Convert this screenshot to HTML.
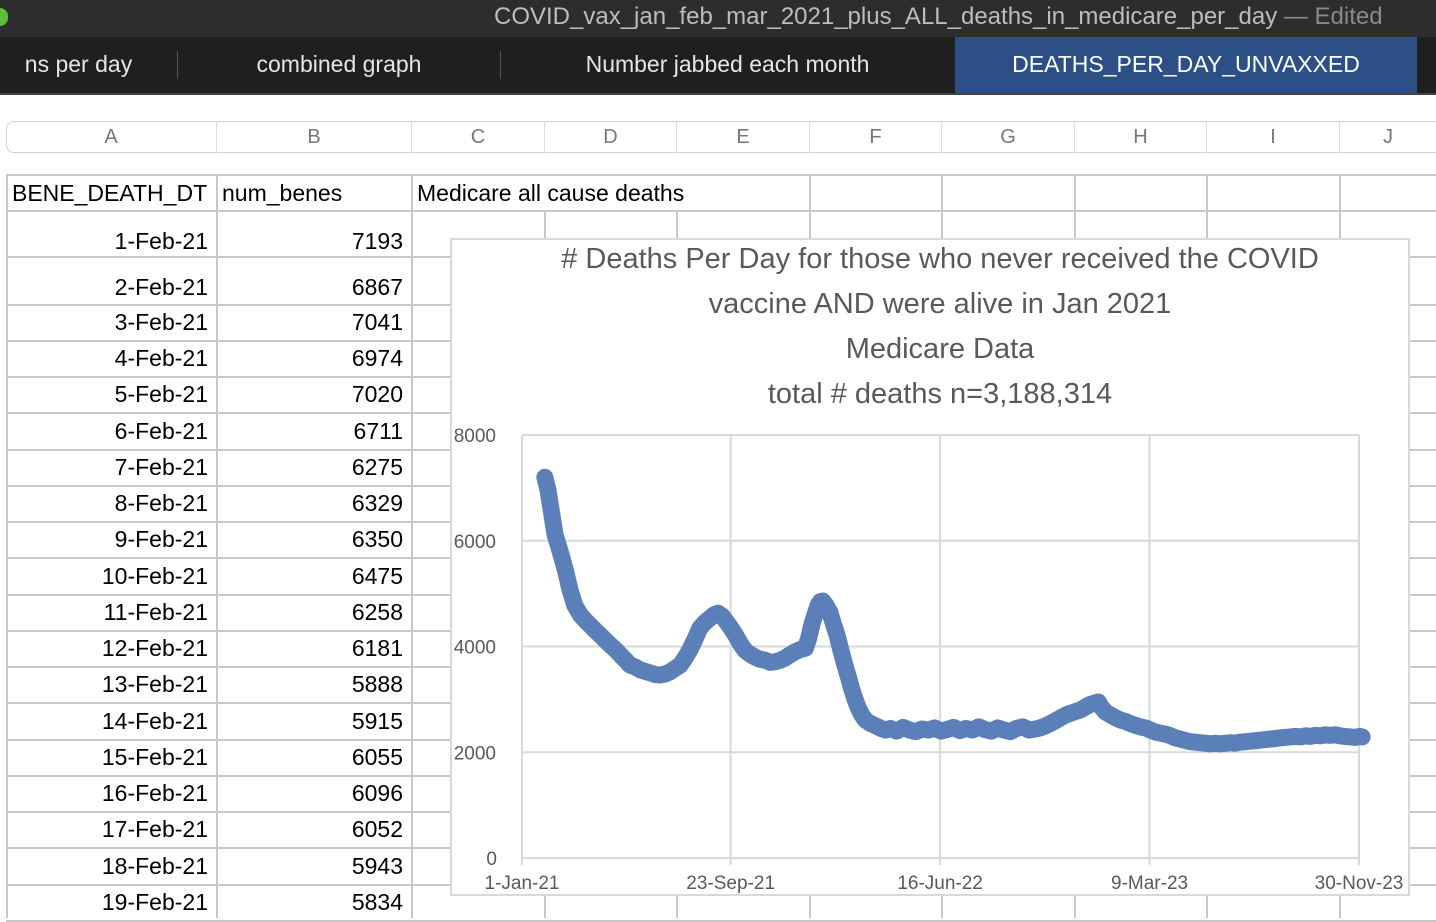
<!DOCTYPE html>
<html><head><meta charset="utf-8"><style>
body{margin:0;width:1436px;height:918px;overflow:hidden;background:#fff;font-family:"Liberation Sans",sans-serif;position:relative}
.abs{position:absolute}
#titlebar{left:0;top:0;width:1436px;height:37px;background:#2d2d2d}
#tabs{left:0;top:37px;width:1436px;height:56px;background:#1f1f1f;border-bottom:2px solid #444}
.tab{position:absolute;top:0;height:56px;line-height:54px;color:#e6e6e6;font-size:23px;text-align:center}
.sep{position:absolute;top:14px;width:1px;height:28px;background:#555}
#colhdr{left:6px;top:121px;width:1440px;height:32px;border:1px solid #cfcfcf;border-radius:8px;box-sizing:border-box}
.col{position:absolute;top:121px;height:32px;line-height:32px;text-align:center;color:#777;font-size:20px;border-left:1px solid #ddd;box-sizing:border-box}
.cell{position:absolute;font-size:23px;color:#000;white-space:nowrap}
</style></head><body>
<div class="abs" id="titlebar">
 <div class="abs" style="left:-8px;top:8px;width:16px;height:18px;border-radius:9px;background:#5bbf3a"></div>
 <div class="abs" style="left:494px;top:3px;font-size:24px;color:#bdbdbd;white-space:nowrap">COVID_vax_jan_feb_mar_2021_plus_ALL_deaths_in_medicare_per_day <span style="color:#8a8a8a">— Edited</span></div>
</div>
<div class="abs" id="tabs">
 <div class="tab" style="left:-20px;width:197px">ns per day</div>
 <div class="sep" style="left:177px"></div>
 <div class="tab" style="left:178px;width:322px">combined graph</div>
 <div class="sep" style="left:500px"></div>
 <div class="tab" style="left:501px;width:453px">Number jabbed each month</div>
 <div class="tab" style="left:955px;width:462px;background:#2c4f86;color:#fff">DEATHS_PER_DAY_UNVAXXED</div>
</div>
<div class="abs" id="colhdr"></div>
<div id="cols"></div>
<div id="grid"></div>

<svg class="abs" style="left:0;top:0" width="1436" height="918" id="chart"></svg>

<script>
const colEdges=[6,216,411,544,676,809,941,1074,1206,1339,1436];
const colNames=["A","B","C","D","E","F","G","H","I","J"];
const rowEdges=[174,210,256,304,340,376,412,449,485,521,557,594,630,666,702,739,775,811,847,884,920];
const dates=["1-Feb-21","2-Feb-21","3-Feb-21","4-Feb-21","5-Feb-21","6-Feb-21","7-Feb-21","8-Feb-21","9-Feb-21","10-Feb-21","11-Feb-21","12-Feb-21","13-Feb-21","14-Feb-21","15-Feb-21","16-Feb-21","17-Feb-21","18-Feb-21","19-Feb-21"];
const benes=[7193,6867,7041,6974,7020,6711,6275,6329,6350,6475,6258,6181,5888,5915,6055,6096,6052,5943,5834];
const cols=document.getElementById('cols');
colNames.forEach((n,i)=>{const d=document.createElement('div');d.className='col';


d.style.left=colEdges[i]+'px';d.style.width=(colEdges[i+1]-colEdges[i])+'px';if(i==0)d.style.borderLeft='none';d.textContent=n;cols.appendChild(d);});
const g=document.getElementById('grid');
let h='';
rowEdges.forEach(y=>{h+=`<div class="abs" style="left:6px;top:${y}px;width:1430px;height:2px;background:#c8c8c8"></div>`});
colEdges.slice(0,-1).forEach((x,i)=>{const top=(i==3||i==4)?210:174;h+=`<div class="abs" style="left:${x}px;top:${top}px;width:2px;height:${918-top}px;background:#c8c8c8"></div>`});
g.innerHTML=h;
function cell(txt,x,y,w,align,name){const d=document.createElement('div');d.className='cell';


d.style.left=x+'px';d.style.top=y+'px';d.style.width=w+'px';d.style.textAlign=align;d.textContent=txt;g.appendChild(d);}
cell('BENE_DEATH_DT',12,180,200,'left','header-bene-death-dt');
cell('num_benes',222,180,185,'left','header-num-benes');
cell('Medicare all cause deaths',417,180,390,'left','header-medicare-deaths');
dates.forEach((d,i)=>{const cy=(i==0?241:(i==1?287:(rowEdges[i+1]+rowEdges[i+2])/2))-13;
cell(d,12,cy,196,'right','date-cell-'+(i+1));
cell(String(benes[i]),222,cy,181,'right','benes-cell-'+(i+1));});
</script>

<script>
// chart data: day offsets from 1-Jan-21 and deaths per day
const dayOffsets=[29,33,38,42,48,55,61,67,74,80,86,92,99,105,112,118,125,131,137,144,150,156,163,169,175,182,188,194,201,207,213,220,226,232,239,244,249,254,258,264,271,277,283,290,296,302,309,315,321,328,334,340,347,353,360,364,368,372,376,379,382,386,391,395,400,405,410,415,419,423,427,431,436,442,449,456,462,468,476,484,492,500,508,516,524,532,540,548,556,564,572,580,588,596,604,612,620,628,636,644,652,658,665,672,678,684,690,697,703,709,715,721,727,732,736,741,748,754,760,767,773,779,785,792,798,805,811,818,824,830,836,843,849,855,861,868,874,880,887,893,900,906,912,919,925,932,938,944,950,957,963,969,976,982,989,995,1001,1008,1014,1020,1026,1033,1039,1045,1052,1058,1064,1067];
const deaths=[7200,6960,6490,6110,5820,5450,5070,4780,4600,4500,4410,4320,4220,4130,4030,3950,3840,3750,3650,3610,3560,3530,3500,3470,3460,3480,3520,3580,3650,3780,3930,4150,4350,4450,4540,4600,4630,4580,4500,4380,4220,4060,3930,3850,3800,3760,3740,3700,3710,3740,3780,3840,3900,3940,3970,4150,4410,4600,4780,4850,4860,4780,4650,4450,4220,3930,3650,3400,3180,3000,2840,2720,2610,2550,2500,2450,2420,2450,2400,2470,2420,2390,2440,2420,2460,2400,2430,2470,2410,2450,2420,2480,2430,2400,2460,2420,2390,2450,2480,2420,2440,2460,2500,2550,2600,2650,2700,2740,2770,2800,2850,2900,2930,2950,2850,2760,2700,2650,2610,2580,2540,2510,2480,2460,2420,2380,2360,2340,2310,2270,2250,2220,2200,2190,2180,2170,2160,2170,2160,2170,2180,2170,2190,2200,2210,2220,2230,2240,2250,2260,2270,2280,2290,2300,2290,2310,2300,2320,2310,2330,2320,2330,2310,2300,2290,2280,2300,2290,2290,2300,2290,2300,2290];
const xTickLabels=["1-Jan-21","23-Sep-21","16-Jun-22","9-Mar-23","30-Nov-23"];
const xTickDays=[0,265,531,797,1063];
const yTicks=[0,2000,4000,6000,8000];
const titleLines=["# Deaths Per Day for those who never received the COVID","vaccine AND were alive in Jan 2021","Medicare Data","total # deaths n=3,188,314"];

const X0=522,X1=1359,Y0=858,Y1=435,DMAX=1063,VMAX=8000;
const xs=d=>X0+(X1-X0)*d/DMAX;
const ys=v=>Y0-(Y0-Y1)*v/VMAX;
const svg=document.getElementById('chart');
const NS='http://www.w3.org/2000/svg';
function mk(t,a,parent){const e=document.createElementNS(NS,t);for(const k in a)e.setAttribute(k,a[k]);(parent||svg).appendChild(e);return e;}
const bg=mk('rect',{x:451,y:239,width:958,height:656,fill:'#fff',stroke:'#d9d9d9','stroke-width':2});


titleLines.forEach((t,i)=>{const e=mk('text',{x:940,y:268+i*45,'text-anchor':'middle','font-size':29,fill:'#595959','font-family':'Liberation Sans, sans-serif'});e.textContent=t;

});
yTicks.forEach(v=>{const l=mk('line',{x1:X0,x2:X1,y1:ys(v),y2:ys(v),stroke:'#d9d9d9','stroke-width':2});


const t=mk('text',{x:v==0?497:496,y:ys(v)+7,'text-anchor':'end','font-size':19,fill:'#595959','font-family':'Liberation Sans, sans-serif'});t.textContent=v;

});
xTickDays.forEach((d,i)=>{const l=mk('line',{x1:xs(d),x2:xs(d),y1:Y1,y2:Y0+7,stroke:'#d9d9d9','stroke-width':2});


const t=mk('text',{x:xs(d),y:889,'text-anchor':'middle','font-size':19,fill:'#595959','font-family':'Liberation Sans, sans-serif'});t.textContent=xTickLabels[i];

});
const series=mk('g',{});


const n=Math.min(dayOffsets.length,deaths.length);
const pts=[];for(let i=0;i<n;i++)pts.push(xs(dayOffsets[i])+','+ys(deaths[i]));
mk('polyline',{points:pts.join(' '),fill:'none',stroke:'#5b7fb8','stroke-width':17,'stroke-linejoin':'round','stroke-linecap':'round'},series);
for(let i=0;i<n;i++){const c=mk('circle',{cx:xs(dayOffsets[i]),cy:ys(deaths[i]),r:8,fill:'#5b7fb8'},series);

}
</script>
</body></html>
